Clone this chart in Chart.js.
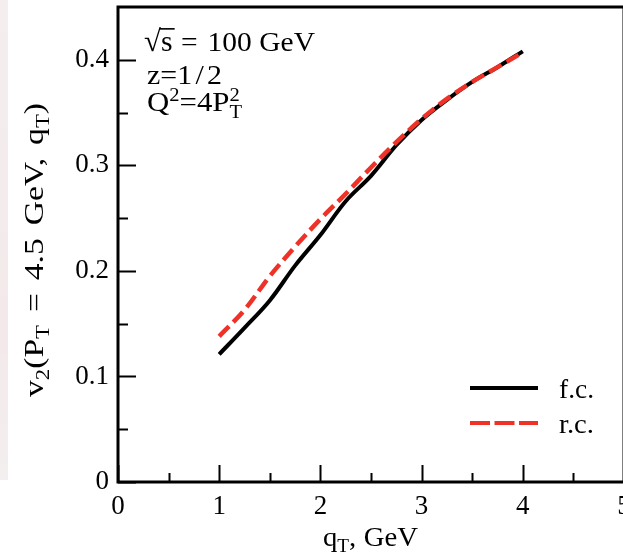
<!DOCTYPE html>
<html>
<head>
<meta charset="utf-8">
<script src="https://cdn.jsdelivr.net/npm/chart.js@4.4.0/dist/chart.umd.min.js"></script>
<style>
  html, body { margin: 0; padding: 0; overflow: hidden; background: #fff; }
  #wrap { width: 640px; height: 560px; }
</style>
</head>
<body>
<div id="wrap"><canvas id="v2Chart" width="640" height="560"></canvas></div>
<script>
// qT grid (GeV) and v2 values
const qT = [1.0, 1.25, 1.5, 1.75, 2.0, 2.25, 2.5, 2.75, 3.0, 3.25, 3.5, 3.75, 4.0];
const fcValues = [0.121, 0.146, 0.172, 0.205, 0.234, 0.266, 0.290, 0.319, 0.343, 0.362, 0.379, 0.393, 0.408];
const rcValues = [0.138, 0.163, 0.195, 0.223, 0.249, 0.273, 0.298, 0.322, 0.344, 0.363, 0.379, 0.393, 0.407];

const xTicks = [0, 1, 2, 3, 4, 5];
const yTicks = [0, 0.1, 0.2, 0.3, 0.4];
const xMinorTicks = [0.5, 1.5, 2.5, 3.5, 4.5];
const yMinorTicks = [0.05, 0.15, 0.25, 0.35];

const FONT = '"Liberation Serif", "DejaVu Serif", serif';
const FS = 27;

function toPoints(xs, ys) {
    return xs.map((x, i) => ({ x: x, y: ys[i] }));
}

// rich text parts: [text, kind] kind = n | sub | sup | subsup | gap
function partWidth(ctx, p, size) {
    if (p[1] === 'gap') return p[0];
    if (p[1] === 'n') {
        ctx.font = size + 'px ' + FONT;
        return ctx.measureText(p[0]).width;
    }
    ctx.font = Math.round(size * 0.68) + 'px ' + FONT;
    if (p[1] === 'subsup') {
        return Math.max(ctx.measureText(p[0]).width, ctx.measureText(p[2]).width);
    }
    return ctx.measureText(p[0]).width;
}

function richWidth(ctx, parts, size) {
    return parts.reduce((w, p) => w + partWidth(ctx, p, size), 0);
}

function drawRich(ctx, x, y, parts, size) {
    const small = Math.round(size * 0.68);
    ctx.textBaseline = 'alphabetic';
    ctx.textAlign = 'left';
    parts.forEach(p => {
        const w = partWidth(ctx, p, size);
        if (p[1] === 'n') {
            ctx.font = size + 'px ' + FONT;
            ctx.fillText(p[0], x, y);
        } else if (p[1] === 'sub') {
            ctx.font = small + 'px ' + FONT;
            ctx.fillText(p[0], x, y + size * 0.22);
        } else if (p[1] === 'sup') {
            ctx.font = small + 'px ' + FONT;
            ctx.fillText(p[0], x, y - size * 0.38);
        } else if (p[1] === 'subsup') {
            ctx.font = small + 'px ' + FONT;
            ctx.fillText(p[0], x, y + size * 0.26);
            ctx.fillText(p[2], x, y - size * 0.36);
        }
        x += w;
    });
    return x;
}

// stretch a rich string horizontally so it spans `width` px from x
function drawRichFit(ctx, x, y, parts, size, width) {
    const w = richWidth(ctx, parts, size);
    ctx.save();
    ctx.translate(x, y);
    ctx.scale(width / w, 1);
    drawRich(ctx, 0, 0, parts, size);
    ctx.restore();
}

const framePlugin = {
    id: 'framePlugin',
    beforeDraw(chart) {
        const ctx = chart.ctx;
        ctx.save();
        ctx.fillStyle = '#ffffff';
        ctx.fillRect(0, 0, chart.width, chart.height);
        const g = ctx.createLinearGradient(0, 0, 0, chart.height);
        g.addColorStop(0, '#f4eeee');
        g.addColorStop(0.6, '#f3e9ea');
        g.addColorStop(1, '#f4f2f2');
        ctx.fillStyle = g;
        ctx.fillRect(0, 0, 8, 480);
        ctx.restore();
    },
    afterDraw(chart) {
        const ctx = chart.ctx;
        const a = chart.chartArea;
        const xs = chart.scales.x;
        const ys = chart.scales.y;
        ctx.save();
        ctx.strokeStyle = '#000';
        ctx.lineWidth = 3;
        ctx.strokeRect(a.left, a.top, a.right - a.left, a.bottom - a.top);

        // inward ticks
        ctx.lineWidth = 2;
        ctx.beginPath();
        xTicks.forEach(v => {
            const px = Math.round(xs.getPixelForValue(v)) + 0.5;
            ctx.moveTo(px, a.bottom); ctx.lineTo(px, a.bottom - 17);
        });
        xMinorTicks.forEach(v => {
            const px = Math.round(xs.getPixelForValue(v)) + 0.5;
            ctx.moveTo(px, a.bottom); ctx.lineTo(px, a.bottom - 9);
        });
        yTicks.forEach(v => {
            const py = Math.round(ys.getPixelForValue(v)) + 0.5;
            ctx.moveTo(a.left, py); ctx.lineTo(a.left + 18, py);
        });
        yMinorTicks.forEach(v => {
            const py = Math.round(ys.getPixelForValue(v)) + 0.5;
            ctx.moveTo(a.left, py); ctx.lineTo(a.left + 10, py);
        });
        ctx.stroke();

        ctx.fillStyle = '#000';

        // annotation block
        ctx.save();
        ctx.translate(144, 51);
        ctx.scale(1.1, 1.08);
        ctx.font = (FS + 1) + 'px ' + FONT;
        ctx.fillText('\u221A', 0, 0);
        const rw = ctx.measureText('\u221A').width;
        ctx.font = FS + 'px ' + FONT;
        const sw = ctx.measureText('s').width;
        ctx.fillText('s', rw, 0);
        ctx.lineWidth = 1.5;
        ctx.beginPath();
        ctx.moveTo(rw - 1, -20.5); ctx.lineTo(rw + sw + 2, -20.5);
        ctx.stroke();
        ctx.restore();
        drawRichFit(ctx, 181, 51, [['=', 'n'], [9, 'gap'], ['100', 'n'], [7, 'gap'], ['GeV', 'n']], FS, 134);
        drawRichFit(ctx, 147, 84, [['z=1', 'n'], [3, 'gap'], ['/', 'n'], [3, 'gap'], ['2', 'n']], FS, 75);
        drawRichFit(ctx, 147, 111, [['Q', 'n'], ['2', 'sup'], ['=4P', 'n'], ['T', 'subsup', '2']], FS, 95);

        // legend
        ctx.lineWidth = 4;
        ctx.strokeStyle = '#000';
        ctx.beginPath();
        ctx.moveTo(470, 388); ctx.lineTo(538, 388);
        ctx.stroke();
        ctx.strokeStyle = '#ee3228';
        ctx.setLineDash([20, 4.5]);
        ctx.beginPath();
        ctx.moveTo(470, 423); ctx.lineTo(538, 423);
        ctx.stroke();
        ctx.setLineDash([]);
        drawRichFit(ctx, 559, 398, [['f.c.', 'n']], FS, 35);
        drawRichFit(ctx, 559, 433, [['r.c.', 'n']], FS, 35);

        // x axis title
        drawRichFit(ctx, 323, 546, [['q', 'n'], ['T', 'sub'], [',', 'n'], [7, 'gap'], ['GeV', 'n']], FS, 95);

        // y axis title: stretched a little, spaces widened to span the reference length
        const ytFont = 28;
        const ytScale = 1.2;
        const ytPieces = [['v', 'n'], ['2', 'sub'], ['(P', 'n'], ['T', 'sub'], ['=', 'n'], ['4.5', 'n'], ['GeV,', 'n'], ['q', 'n'], ['T', 'sub'], [')', 'n']];
        const gapAfter = [3, 4, 5, 6];
        const solid = richWidth(ctx, ytPieces, ytFont);
        const gap = Math.max(4, (294 / ytScale - solid) / gapAfter.length);
        const yt = [];
        ytPieces.forEach((p, i) => {
            yt.push(p);
            if (gapAfter.includes(i)) yt.push([gap, 'gap']);
        });
        ctx.translate(43, 397);
        ctx.rotate(-Math.PI / 2);
        ctx.scale(ytScale, 1);
        drawRich(ctx, 0, 0, yt, ytFont);
        ctx.restore();
    }
};

new Chart(document.getElementById('v2Chart'), {
    type: 'scatter',
    data: {
        datasets: [
            {
                label: 'f.c.',
                data: toPoints(qT, fcValues),
                showLine: true,
                borderColor: '#000000',
                borderWidth: 4,
                pointRadius: 0,
                tension: 0.35,
                order: 2
            },
            {
                label: 'r.c.',
                data: toPoints(qT, rcValues),
                showLine: true,
                borderColor: '#ee3228',
                borderWidth: 4.5,
                borderDash: [14, 6],
                pointRadius: 0,
                tension: 0.35,
                order: 1
            }
        ]
    },
    options: {
        responsive: false,
        animation: false,
        events: [],
        layout: { padding: { left: 0, right: 16, top: 7, bottom: 0 } },
        plugins: {
            legend: { display: false },
            tooltip: { enabled: false }
        },
        scales: {
            x: {
                type: 'linear',
                min: 0,
                max: 5,
                grid: { display: false, drawTicks: false },
                border: { display: false },
                afterBuildTicks: s => { s.ticks = xTicks.map(v => ({ value: v })); },
                afterFit: s => { s.height = 78; s.paddingLeft = 0; s.paddingRight = 0; },
                ticks: {
                    padding: 9,
                    color: '#000',
                    font: { family: FONT, size: 27 },
                    callback: v => String(v)
                }
            },
            y: {
                type: 'linear',
                min: 0,
                max: 0.45,
                grid: { display: false, drawTicks: false },
                border: { display: false },
                afterBuildTicks: s => { s.ticks = yTicks.map(v => ({ value: v })); },
                afterFit: s => { s.width = 118; s.paddingTop = 0; s.paddingBottom = 0; },
                ticks: {
                    padding: 9,
                    color: '#000',
                    font: { family: FONT, size: 27 },
                    callback: v => v === 0 ? '0' : v.toFixed(1)
                }
            }
        }
    },
    plugins: [framePlugin]
});
</script>
</body>
</html>
